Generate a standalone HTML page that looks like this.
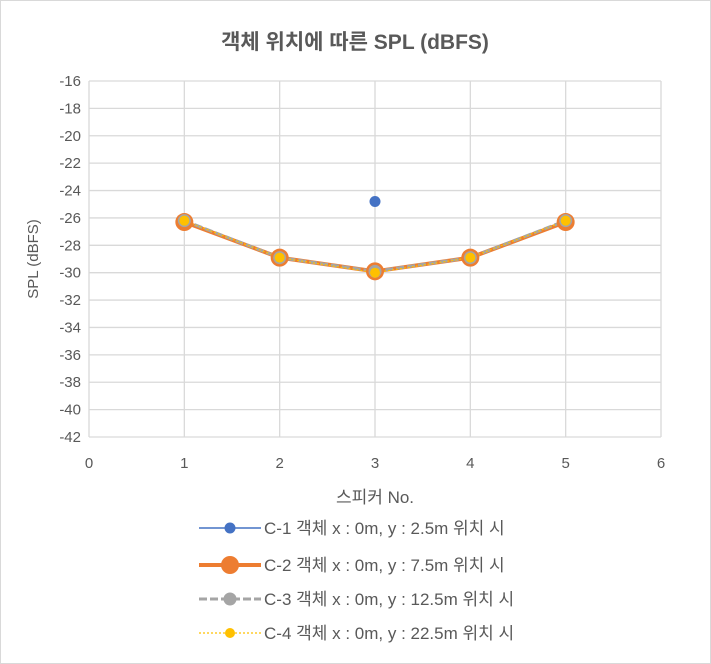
<!DOCTYPE html>
<html><head><meta charset="utf-8"><style>
body{margin:0;background:#fff;font-family:"Liberation Sans","Noto Sans CJK KR",sans-serif}
svg{display:block}
</style></head><body>
<svg id="chart" width="711" height="664" viewBox="0 0 711 664" xmlns="http://www.w3.org/2000/svg" font-family="Liberation Sans, Noto Sans CJK KR, sans-serif">
<rect x="0.5" y="0.5" width="710" height="663" fill="#fff" stroke="#d9d9d9"/>
<text x="355" y="49" text-anchor="middle" font-size="21" font-weight="bold" fill="#595959">객체 위치에 따른 SPL (dBFS)</text>
<g id="grid"></g><g id="axes"></g><g id="series"></g>
<text transform="translate(38,259) rotate(-90)" text-anchor="middle" font-size="15" fill="#595959">SPL (dBFS)</text>
<text x="375" y="503" text-anchor="middle" font-size="17" fill="#595959">스피커 No.</text>
<g id="legend"></g>
</svg>
<script>
const xTicks=[0,1,2,3,4,5,6];
const yTicks=[-16,-18,-20,-22,-24,-26,-28,-30,-32,-34,-36,-38,-40,-42];
const c1X=[3];
const c1Y=[-24.8];
const spkX=[1,2,3,4,5];
const c2Y=[-26.3,-28.9,-29.9,-28.9,-26.3];
const c3Y=[-26.2,-28.9,-29.9,-28.9,-26.2];
const c4Y=[-26.2,-28.9,-30.0,-28.9,-26.2];
const legendLabels=["C-1 객체 x : 0m, y : 2.5m 위치 시","C-2 객체 x : 0m, y : 7.5m 위치 시","C-3 객체 x : 0m, y : 12.5m 위치 시","C-4 객체 x : 0m, y : 22.5m 위치 시"];
const NS="http://www.w3.org/2000/svg";
const X0=89,X1=661,Y0=81,Y1=437;
const sx=v=>X0+(v-0)/(6-0)*(X1-X0);
const sy=v=>Y0+(-16-v)/(26)*(Y1-Y0);
function mk(t,a,p){const e=document.createElementNS(NS,t);for(const k in a)e.setAttribute(k,a[k]);p.appendChild(e);return e;}
const grid=document.getElementById('grid'),axes=document.getElementById('axes'),ser=document.getElementById('series'),leg=document.getElementById('legend');
yTicks.forEach(v=>{
 const l=mk('line',{x1:X0,x2:X1,y1:sy(v),y2:sy(v),stroke:'#d9d9d9','stroke-width':1.3},grid);
 
 
 const t=mk('text',{x:X0-8,y:sy(v)+5,'text-anchor':'end','font-size':15,fill:'#595959'},axes);t.textContent=v;
 
 
});
xTicks.forEach(v=>{
 const l=mk('line',{x1:sx(v),x2:sx(v),y1:Y0,y2:Y1,stroke:'#d9d9d9','stroke-width':1.3},grid);
 
 
 const t=mk('text',{x:sx(v),y:Y1+31,'text-anchor':'middle','font-size':15,fill:'#595959'},axes);t.textContent=v;
 
 
});
function pts(xs,ys){return xs.map((x,i)=>sx(x)+','+sy(ys[i])).join(' ');}
let p;
p=mk('polyline',{points:pts(spkX,c2Y),fill:'none',stroke:'#ED7D31','stroke-width':4},ser);


p=mk('polyline',{points:pts(spkX,c3Y),fill:'none',stroke:'#A5A5A5','stroke-width':3,'stroke-dasharray':'8,3'},ser);


p=mk('polyline',{points:pts(spkX,c4Y),fill:'none',stroke:'#FFC000','stroke-width':1.2,'stroke-dasharray':'2,2'},ser);


spkX.forEach((x,i)=>{
 let c=mk('circle',{cx:sx(x),cy:sy(c2Y[i]),r:9,fill:'#ED7D31'},ser);
 
 
 c=mk('circle',{cx:sx(x),cy:sy(c3Y[i]),r:6.5,fill:'#A5A5A5'},ser);
 
 
 c=mk('circle',{cx:sx(x),cy:sy(c4Y[i]),r:5,fill:'#FFC000'},ser);
 
 
});
c1X.forEach((x,i)=>{
 const c=mk('circle',{cx:sx(x),cy:sy(c1Y[i]),r:5.5,fill:'#4472C4'},ser);
 
 
});
const legY=[528,565,599,633];
const styles=[
 {stroke:'#4472C4',w:1.5,dash:'',r:5.5,fill:'#4472C4'},
 {stroke:'#ED7D31',w:4,dash:'',r:9,fill:'#ED7D31'},
 {stroke:'#A5A5A5',w:3,dash:'8,3',r:6.5,fill:'#A5A5A5'},
 {stroke:'#FFC000',w:1.2,dash:'2,2',r:5,fill:'#FFC000'}];
legendLabels.forEach((lab,i)=>{
 const g=mk('g',{},leg);
 
 
 const s=styles[i];
 mk('line',{x1:199,x2:261,y1:legY[i],y2:legY[i],stroke:s.stroke,'stroke-width':s.w,'stroke-dasharray':s.dash},g);
 mk('circle',{cx:230,cy:legY[i],r:s.r,fill:s.fill},g);
 const t=mk('text',{x:264,y:legY[i]+6,'font-size':17,fill:'#595959'},g);t.textContent=lab;
});
</script>
</body></html>
